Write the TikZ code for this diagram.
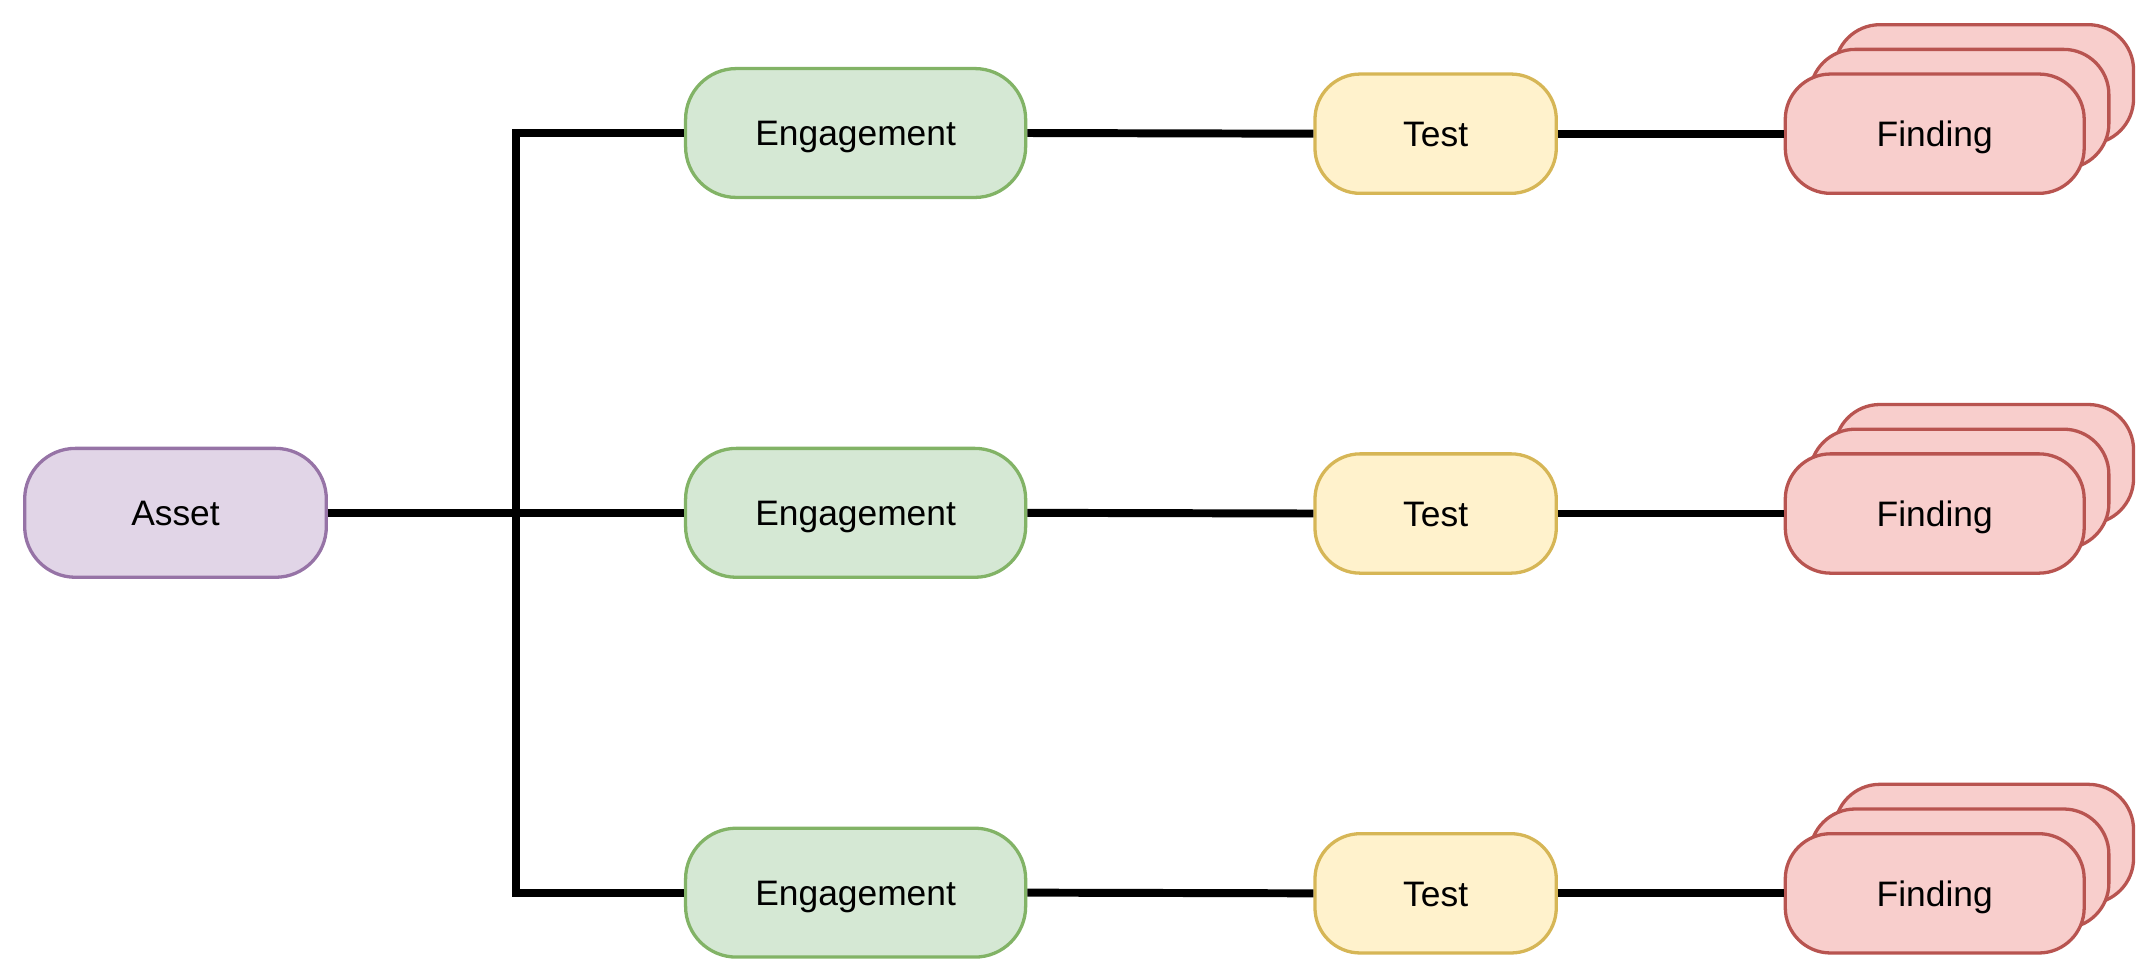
\documentclass[tikz,border=0pt]{standalone}
\usepackage{fontspec}
\setmainfont{Liberation Sans}
\definecolor{purpleF}{HTML}{E1D5E7}\definecolor{purpleD}{HTML}{9673A6}
\definecolor{greenF}{HTML}{D5E8D4}\definecolor{greenD}{HTML}{82B366}
\definecolor{yellowF}{HTML}{FFF2CC}\definecolor{yellowD}{HTML}{D6B656}
\definecolor{redF}{HTML}{F8CECC}\definecolor{redD}{HTML}{B85450}
\begin{document}
\begin{tikzpicture}[x=1pt,y=-1pt,
  box/.style={line width=2.4pt, font=\fontsize{25.8pt}{30pt}\selectfont, inner sep=0pt, text height=18.5pt, text depth=0pt},
  assetbox/.style={box, rounded corners=37pt, fill=purpleF, draw=purpleD, minimum width=220pt, minimum height=94pt},
  engbox/.style={box, rounded corners=37pt, fill=greenF, draw=greenD, minimum width=248pt, minimum height=94pt},
  testbox/.style={box, rounded corners=33pt, fill=yellowF, draw=yellowD, minimum width=176pt, minimum height=87pt},
  findbox/.style={box, rounded corners=33pt, fill=redF, draw=redD, minimum width=218pt, minimum height=87pt},
  wire/.style={line width=5.8pt, line join=miter}]
\useasboundingbox (0,0) rectangle (1568,710);
\node[assetbox] (asset) at (128,374) {Asset};
\foreach \i/\y in {1/97,2/374,3/651}{
  \node[engbox] (e\i) at (624,\y) {Engagement};
  \node[testbox] (t\i) at (1047,\y+0.5) {Test};
  \node[findbox] (fb\i) at (1447,\y-35.5) {};
  \node[findbox] (fm\i) at (1429,\y-17.5) {};
  \node[findbox] (f\i) at (1411,\y+0.5) {Finding};
}
\coordinate (bus) at (376,374);
\draw[wire] (asset.east) -- (e2.west);
\draw[wire] (e1.west) -| (bus) |- (e3.west);
\foreach \i in {1,2,3}{
  \draw[wire] (e\i.east) -- (t\i.west);
  \draw[wire] (t\i.east) -- (f\i.west);
}
\end{tikzpicture}
\end{document}
